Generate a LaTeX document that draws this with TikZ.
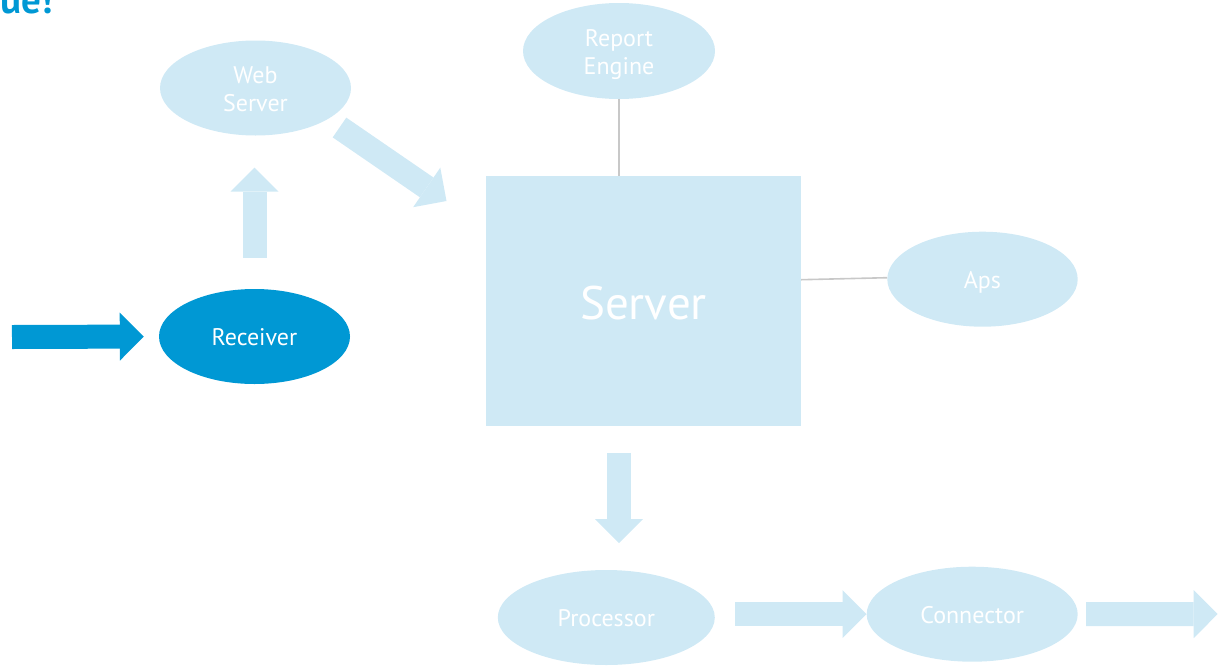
\documentclass[tikz,border=0pt]{standalone}
\usepackage{fontspec}
\setmainfont{PT Sans}
\usetikzlibrary{shapes.geometric,arrows.meta,calc}
\definecolor{paleblue}{RGB}{207,233,245}
\definecolor{deepblue}{RGB}{0,152,212}
\definecolor{wire}{RGB}{200,200,200}
\begin{document}
\begin{tikzpicture}[x=1pt,y=-1pt,
  every node/.style={inner sep=0pt, text=white},
  blob/.style={ellipse, fill=paleblue, minimum width=191pt, minimum height=95pt,
    align=center, font=\fontsize{24}{28.5}\selectfont,
    text height=18.4pt, text depth=0pt},
  twoline/.style={text height=47.6pt, text depth=0pt},
  flow/.style={draw=paleblue, line width=24pt,
    -{Triangle[length=24pt,width=48pt,line width'=0pt]}},
  link/.style={draw=wire, line width=1.6pt}]
\useasboundingbox (0,0) rectangle (1224,665);

% heading fragment at the top edge
\node[anchor=base east, text=deepblue, font=\fontsize{39}{39}\selectfont\bfseries]
  (title) at (53,13.3) {ue!};

% components
\node[blob, twoline] (web) at (255.5,88) {Web\\Server};
\node[blob, twoline, minimum width=192pt, minimum height=96pt] (rep) at (619,51) {Report\\Engine};
\node[blob, fill=deepblue] (recv) at (254.5,336.5) {Receiver};
\node[fill=paleblue, minimum width=315pt, minimum height=249.7pt,
  font=\fontsize{47}{47}\selectfont, text height=36.9pt, text depth=0pt]
  (srv) at (643.5,300.85) {Server};
\node[blob, minimum width=190.4pt] (aps) at (982.5,279.2) {Aps};
\node[blob, minimum width=217pt] (proc) at (606.3,617.5) {Processor};
\node[blob, minimum width=211pt] (conn) at (972.2,614.2) {Connector};

% free ends of the flow arrows
\coordinate (in) at (12,337);
\coordinate (out) at (1217.7,614);
\coordinate (slantA) at (339.5,127.5);
\coordinate (slantB) at (446.5,201);

% plain links
\draw[link] (rep.south) -- (rep.south |- srv.north);
\draw[link] ($(srv.east |- aps.west)+(0,0.5)$) -- ($(aps.west)+(0,-1.5)$);

% flow arrows
\draw[flow, draw=deepblue, shorten >=15pt] (in) -- (recv.west);
\draw[flow, shorten <=31pt, shorten >=32pt] (recv.north) -- (recv.north |- web.south);
\draw[flow] (slantA) -- (slantB);
\draw[flow, shorten <=27pt, shorten >=26.7pt] (srv.south -| rep.south) -- (proc.north -| rep.south);
\draw[flow, shorten <=20pt] (proc.east |- conn.west) -- (conn.west);
\draw[flow, shorten <=8.3pt] (conn.east) -- (out);
\end{tikzpicture}
\end{document}
